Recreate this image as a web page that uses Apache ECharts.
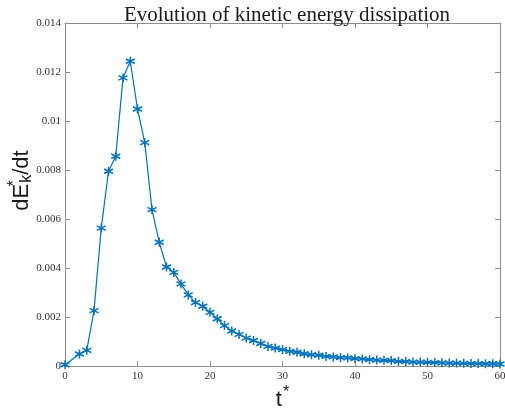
<!DOCTYPE html>
<html>
<head>
<meta charset="utf-8">
<script src="https://cdn.jsdelivr.net/npm/echarts@6/dist/echarts.min.js"></script>
<style>
  html, body { margin: 0; padding: 0; background: #fff; }
  #chart { width: 505px; height: 408px; }
</style>
</head>
<body>
<div id="chart"></div>
<script>
// time steps (t = 1 is missing in the source plot)
const tValues = [0, 2, 3, 4, 5, 6, 7, 8, 9, 10, 11, 12, 13, 14, 15, 16, 17, 18, 19, 20,
  21, 22, 23, 24, 25, 26, 27, 28, 29, 30, 31, 32, 33, 34, 35, 36, 37, 38, 39, 40,
  41, 42, 43, 44, 45, 46, 47, 48, 49, 50, 51, 52, 53, 54, 55, 56, 57, 58, 59, 60];
// dE_k*/dt
const dissipation = [0.00005, 0.00049, 0.00064, 0.00226, 0.00563, 0.00795, 0.00856, 0.01176, 0.01244, 0.01049,
  0.00912, 0.00638, 0.00505, 0.00404, 0.00382, 0.00335, 0.0029, 0.00259, 0.00244, 0.00219,
  0.00193, 0.00165, 0.00143, 0.00129, 0.00114, 0.00104, 0.00092, 0.0008, 0.00073, 0.00067,
  0.0006, 0.00056, 0.0005, 0.00046, 0.00044, 0.00039, 0.00037, 0.00034, 0.00033, 0.0003,
  0.00029, 0.00026, 0.00024, 0.00023, 0.00022, 0.00019, 0.00018, 0.00016, 0.00016, 0.00015,
  0.00014, 0.00013, 0.00012, 0.00012, 0.00011, 0.0001, 0.0001, 0.00009, 0.00009, 0.00008];
const xTicks = [0, 10, 20, 30, 40, 50, 60];
const yTicks = ['0', '0.002', '0.004', '0.006', '0.008', '0.01', '0.012', '0.014'];

const chart = echarts.init(document.getElementById('chart'));

const axisColor = '#8c8c8c';
const labelFont = { color: '#333', fontFamily: 'Liberation Serif', fontSize: 11 };

const points = tValues.map((t, i) => [t, dissipation[i]]);

// asterisk marker like matlab's '*'
const star = 'path://M0,-5L0,5M-4.33,-2.5L4.33,2.5M-4.33,2.5L4.33,-2.5';

// plain tick-only axis for the top / right side of the box
function boxAxis(pos, max, interval) {
  return {
    type: 'value', position: pos, min: 0, max: max, interval: interval,
    axisLine: { show: true, onZero: false, lineStyle: { color: axisColor } },
    axisTick: { show: true, inside: true, length: 5, lineStyle: { color: axisColor } },
    axisLabel: { show: false },
    splitLine: { show: false }
  };
}

const option = {
  animation: false,
  title: {
    text: 'Evolution of kinetic energy dissipation',
    left: 282,
    textAlign: 'center',
    top: 0,
    textStyle: { fontFamily: 'Liberation Serif', fontWeight: 'normal', fontSize: 21, color: '#1a1a1a' }
  },
  grid: { left: 65, right: 5, top: 23, bottom: 42, outerBoundsMode: 'none', containLabel: false },
  xAxis: [
    {
      type: 'value', min: 0, max: 60, interval: 10,
      axisLine: { onZero: false, lineStyle: { color: axisColor } },
      axisTick: { inside: true, length: 5, lineStyle: { color: axisColor } },
      splitLine: { show: false },
      axisLabel: Object.assign({ margin: 5 }, labelFont, {
        formatter: v => xTicks.indexOf(v) >= 0 ? String(v) : ''
      }),
      name: '{t|t}{s|*}',
      nameLocation: 'middle',
      nameGap: 19,
      nameMoveOverlap: false,
      nameTextStyle: {
        rich: {
          t: { fontFamily: 'Liberation Sans', fontSize: 22, color: '#1a1a1a' },
          s: { fontFamily: 'Liberation Sans', fontSize: 16, color: '#1a1a1a', padding: [0, 0, 14, 1] }
        }
      }
    },
    boxAxis('top', 60, 10)
  ],
  yAxis: [
    {
      type: 'value', min: 0, max: 0.014, interval: 0.002,
      axisLine: { show: true, onZero: false, lineStyle: { color: axisColor } },
      axisTick: { show: true, inside: true, length: 5, lineStyle: { color: axisColor } },
      splitLine: { show: false },
      axisLabel: Object.assign({ margin: 4 }, labelFont, {
        formatter: v => yTicks[Math.round(v / 0.002)] || ''
      }),
      name: '{d|dE}{s|*}{k|k}{d|/dt}',
      nameLocation: 'middle',
      nameGap: 28,
      nameRotate: 90,
      nameMoveOverlap: false,
      nameTextStyle: {
        padding: [0, 0, 0, 28],
        rich: {
          d: { fontFamily: 'Liberation Sans', fontSize: 22, color: '#1a1a1a' },
          s: { fontFamily: 'Liberation Sans', fontSize: 16, color: '#1a1a1a', width: 1, padding: [0, 0, 14, 0] },
          k: { fontFamily: 'Liberation Sans', fontSize: 16, color: '#1a1a1a', padding: [10, 0, 0, 0] }
        }
      }
    },
    boxAxis('right', 0.014, 0.002)
  ],
  series: [
    {
      type: 'line',
      data: points,
      symbol: star,
      symbolSize: 9,
      showAllSymbol: true,
      lineStyle: { color: '#0072BD', width: 1.2 },
      itemStyle: { color: 'rgba(0,0,0,0)', borderColor: '#0072BD', borderWidth: 1.5 }
    }
  ]
};

chart.setOption(option);
</script>
</body>
</html>
